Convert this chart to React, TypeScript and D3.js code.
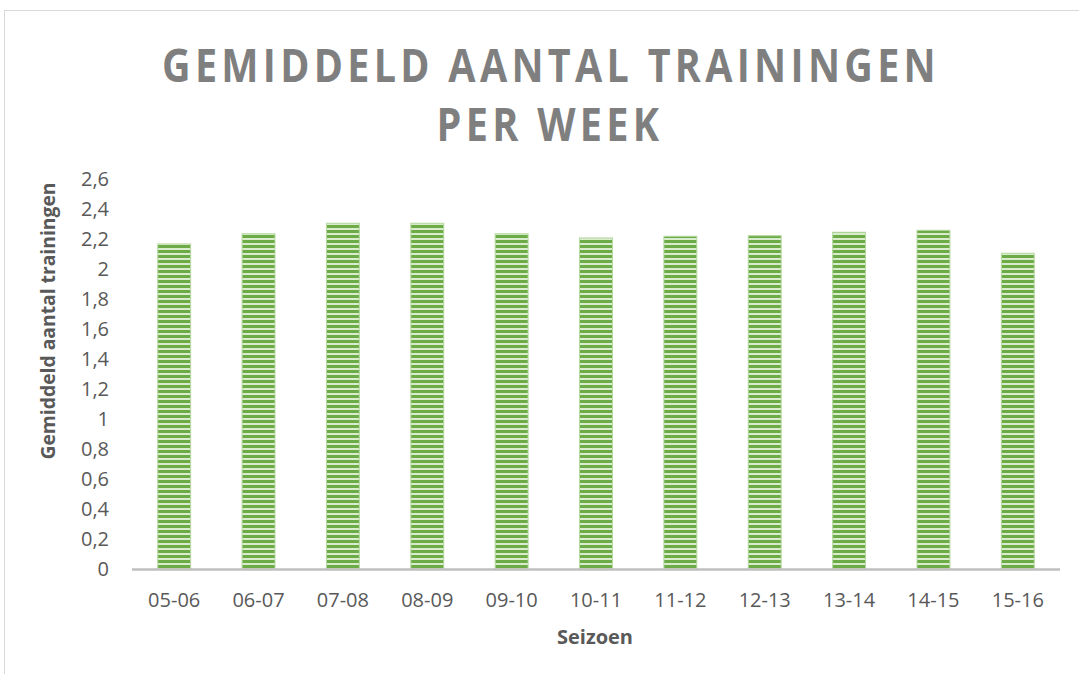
import React from "react";
import * as d3 from "d3";

const seasons = ["05-06", "06-07", "07-08", "08-09", "09-10", "10-11", "11-12", "12-13", "13-14", "14-15", "15-16"];
const avgTrainings = [2.167, 2.235, 2.305, 2.305, 2.235, 2.207, 2.218, 2.222, 2.245, 2.258, 2.105];
const yTicks = [0, 0.2, 0.4, 0.6, 0.8, 1, 1.2, 1.4, 1.6, 1.8, 2, 2.2, 2.4, 2.6];
const titleLines = ["GEMIDDELD AANTAL TRAININGEN", "PER WEEK"];
const yAxisTitle = "Gemiddeld aantal trainingen";
const xAxisTitle = "Seizoen";

const W = 1079;
const H = 674;
const plot = { left: 132, right: 1060, top: 179, bottom: 569 };

export default function App() {
  const x = d3
    .scaleBand<string>()
    .domain(seasons)
    .range([plot.left, plot.right])
    .paddingInner(0.61)
    .paddingOuter(0.305);
  const y = d3.scaleLinear().domain([0, 2.6]).range([plot.bottom, plot.top]);
  const fmt = (v: number) => (Math.round(v * 10) / 10).toString().replace(".", ",");
  const font = "'Open Sans', 'Noto Sans', sans-serif";

  return (
    <svg
      width={W}
      height={H}
      style={{ position: "absolute", left: 0, top: 0, background: "#fff" }}
      fontFamily={font}
    >
      <defs>
        <pattern id="stripes" patternUnits="userSpaceOnUse" width={8} height={5}>
          <rect x={0} y={0} width={8} height={5} fill="#d9ecce" />
          <rect x={0} y={0} width={8} height={3} fill="#6cab46" />
        </pattern>
      </defs>
      <rect x={4.5} y={10.5} width={1200} height={800} fill="none" stroke="#d9d9d9" strokeWidth={1} />

      <text
        x={551}
        y={82}
        textAnchor="middle"
        fontSize={46}
        fontWeight={700}
        fill="#7f7f7f"
        letterSpacing={5}
        textLength={778}
        lengthAdjust="spacingAndGlyphs"
      >
        {titleLines[0]}
      </text>
      <text
        x={550}
        y={141}
        textAnchor="middle"
        fontSize={46}
        fontWeight={700}
        fill="#7f7f7f"
        letterSpacing={5}
        textLength={227}
        lengthAdjust="spacingAndGlyphs"
      >
        {titleLines[1]}
      </text>

      {yTicks.map((t) => (
        <text key={t} x={109} y={y(t)} dy="0.35em" textAnchor="end" fontSize={20} fill="#595959">
          {fmt(t)}
        </text>
      ))}

      {seasons.map((s, i) => (
        <rect
          key={s}
          x={x(s)!}
          y={y(avgTrainings[i])}
          width={x.bandwidth()}
          height={y(0) - y(avgTrainings[i])}
          fill="url(#stripes)"
          stroke="#b5d89f"
          strokeWidth={1}
        />
      ))}

      <line x1={plot.left} x2={plot.right} y1={plot.bottom + 0.5} y2={plot.bottom + 0.5} stroke="#bfbfbf" strokeWidth={2.5} />

      {seasons.map((s) => (
        <text key={s} x={x(s)! + x.bandwidth() / 2} y={600} dy="0.35em" textAnchor="middle" fontSize={20} fill="#595959">
          {s}
        </text>
      ))}

      <text
        x={595}
        y={637}
        dy="0.35em"
        textAnchor="middle"
        fontSize={20}
        fontWeight={700}
        fill="#595959"
      >
        {xAxisTitle}
      </text>
      <text
        transform={`translate(48,321) rotate(-90)`}
        dy="0.35em"
        textAnchor="middle"
        fontSize={19}
        fontWeight={700}
        fill="#595959"
        textLength={277}
        lengthAdjust="spacingAndGlyphs"
      >
        {yAxisTitle}
      </text>
    </svg>
  );
}
